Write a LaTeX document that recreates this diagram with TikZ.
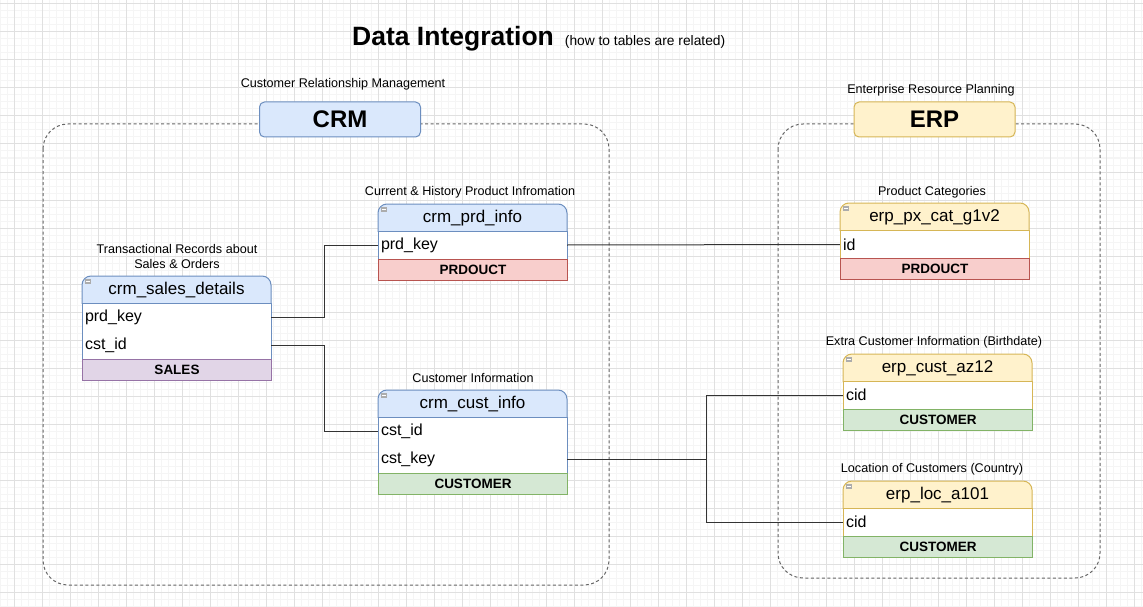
\documentclass[tikz,border=0pt]{standalone}
\usepackage{fontspec}
\setmainfont{Liberation Sans}

\definecolor{blueF}{HTML}{DAE8FC}   \definecolor{blueD}{HTML}{6C8EBF}
\definecolor{yellowF}{HTML}{FFF2CC} \definecolor{yellowD}{HTML}{D6B656}
\definecolor{redF}{HTML}{F8CECC}    \definecolor{redD}{HTML}{B85450}
\definecolor{greenF}{HTML}{D5E8D4}  \definecolor{greenD}{HTML}{82B366}
\definecolor{purpleF}{HTML}{E1D5E7} \definecolor{purpleD}{HTML}{9673A6}
\definecolor{gridMinor}{HTML}{F5F5F5}
\definecolor{gridMajor}{HTML}{E0E0E0}
\definecolor{dashC}{HTML}{666666}
\definecolor{connC}{HTML}{333333}

\tikzset{
  minorgrid/.style={draw=gridMinor, line width=1pt},
  majorgrid/.style={draw=gridMajor, line width=1pt},
  container/.style={draw=dashC, line width=1pt, dash pattern=on 3pt off 2.5pt, rounded corners=25pt},
  sysbox/.style={rounded corners=5pt, line width=1pt, minimum width=161pt, minimum height=35pt,
    inner sep=0pt, font=\fontsize{24}{28}\selectfont\bfseries},
  caption/.style={font=\fontsize{12.6}{15}\selectfont, align=center, inner sep=0pt},
  tbltitle/.style={font=\fontsize{17}{20}\selectfont, inner sep=0pt},
  rowbox/.style={minimum height=28pt, text width=183pt, inner xsep=3pt, inner ysep=0pt,
    align=left, font=\fontsize{16}{19}\selectfont},
  footbox/.style={minimum width=189pt, minimum height=21pt, inner sep=0pt, line width=1pt,
    anchor=north west, font=\fontsize{13.5}{16}\selectfont\bfseries},
  conn/.style={draw=connC, line width=1pt},
}

% table header: name, x, y, title, colour prefix
\newcommand\tblhead[5]{%
  \begin{scope}
    \clip (#2-2,#3-2) rectangle (#2+191,#3+27);
    \draw[fill=#5F, draw=#5D, line width=1pt, rounded corners=9pt] (#2,#3) rectangle (#2+189,#3+40);
  \end{scope}
  \draw[draw=#5D, line width=1pt] (#2,#3+27) -- (#2+189,#3+27);
  \node[tbltitle] (#1) at (#2+94.5,#3+14) {#4};
  \fill[gray!65] (#2+3,#3+3) rectangle (#2+9,#3+8);
  \draw[white, line width=0.6pt] (#2+4,#3+5.5) -- (#2+8,#3+5.5);
}
% table body sides: x, top y, bottom y, colour prefix
\newcommand\tblbody[4]{%
  \fill[white] (#1,#2) rectangle (#1+189,#3);
  \draw[draw=#4D, line width=1pt] (#1,#2) -- (#1,#3) (#1+189,#2) -- (#1+189,#3);
}

\begin{document}
\begin{tikzpicture}[x=1pt, y=-1pt]
\useasboundingbox (0,0) rectangle (1143,607);

% background grid
\begin{scope}
  \clip (0,0) rectangle (1143,607);
  \fill[white] (0,0) rectangle (1143,607);
  \foreach \i in {0,...,164} \draw[minorgrid] ({\i*7},0) -- ({\i*7},607);
  \foreach \j in {0,...,87} \draw[minorgrid] (0,{\j*7-3}) -- (1143,{\j*7-3});
  \foreach \i in {0,...,40} \draw[majorgrid] ({14+\i*28},0) -- ({14+\i*28},607);
  \foreach \j in {0,...,21} \draw[majorgrid] (0,{4+\j*28}) -- (1143,{4+\j*28});
\end{scope}

% title
\node[anchor=base west, inner sep=0pt] (title) at (352,46)
  {{\fontsize{26.5}{30}\selectfont\bfseries Data Integration}\hspace{11pt}{\fontsize{13.8}{16}\selectfont (how to tables are related)}};

% source system containers
\draw[container] (43,124) rectangle (609,585);
\draw[container] (778,124) rectangle (1100,578);

\node[caption] (crmcap) at (343,84) {Customer Relationship Management};
\node[sysbox, fill=blueF, draw=blueD] (crm) at (340,119.5) {CRM};
\node[caption] (erpcap) at (931,90) {Enterprise Resource Planning};
\node[sysbox, fill=yellowF, draw=yellowD] (erp) at (934.5,119.5) {ERP};

% crm_sales_details
\node[caption] (salescap) at (177,256.5) {Transactional Records about\\Sales \& Orders};
\tblbody{82}{303}{359}{blue}
\tblhead{sales}{82}{276}{crm\_sales\_details}{blue}
\node[rowbox] (sales-prd) at (176.5,317) {prd\_key};
\node[rowbox] (sales-cst) at (176.5,345) {cst\_id};
\node[footbox, fill=purpleF, draw=purpleD] (sales-foot) at (82,359) {SALES};

% crm_prd_info
\node[caption] (prdcap) at (470,192) {Current \& History Product Infromation};
\tblbody{378}{231}{259}{blue}
\tblhead{prd}{378}{204}{crm\_prd\_info}{blue}
\node[rowbox] (prd-key) at (472.5,245) {prd\_key};
\node[footbox, fill=redF, draw=redD] (prd-foot) at (378,259) {PRDOUCT};

% crm_cust_info
\node[caption] (custcap) at (473,378) {Customer Information};
\tblbody{378}{417}{473}{blue}
\tblhead{cust}{378}{390}{crm\_cust\_info}{blue}
\node[rowbox] (cust-id) at (472.5,431) {cst\_id};
\node[rowbox] (cust-key) at (472.5,459) {cst\_key};
\node[footbox, fill=greenF, draw=greenD] (cust-foot) at (378,473) {CUSTOMER};

% erp_px_cat_g1v2
\node[caption] (catcap) at (932,192) {Product Categories};
\tblbody{840}{230}{258}{yellow}
\tblhead{cat}{840}{203}{erp\_px\_cat\_g1v2}{yellow}
\node[rowbox] (cat-id) at (934.5,244.5) {id};
\node[footbox, fill=redF, draw=redD] (cat-foot) at (840,258) {PRDOUCT};

% erp_cust_az12
\node[caption] (azcap) at (934,342) {Extra Customer Information (Birthdate)};
\tblbody{843}{381}{409}{yellow}
\tblhead{az}{843}{354}{erp\_cust\_az12}{yellow}
\node[rowbox] (az-cid) at (937.5,395) {cid};
\node[footbox, fill=greenF, draw=greenD] (az-foot) at (843,409) {CUSTOMER};

% erp_loc_a101
\node[caption] (loccap) at (932,469) {Location of Customers (Country)};
\tblbody{843}{508}{536}{yellow}
\tblhead{loc}{843}{481}{erp\_loc\_a101}{yellow}
\node[rowbox] (loc-cid) at (937.5,522) {cid};
\node[footbox, fill=greenF, draw=greenD] (loc-foot) at (843,536) {CUSTOMER};

% relations
\draw[conn] (sales-prd.east) -- ++(53,0) |- (prd-key.west);
\draw[conn] (sales-cst.east) -- ++(53,0) |- (cust-id.west);
\draw[conn] (prd-key.east) -- (cat-id.west);
\draw[conn] (cust-key.east) -- ++(139,0) |- (az-cid.west);
\draw[conn] (cust-key.east) -- ++(139,0) |- (loc-cid.west);

\end{tikzpicture}
\end{document}
